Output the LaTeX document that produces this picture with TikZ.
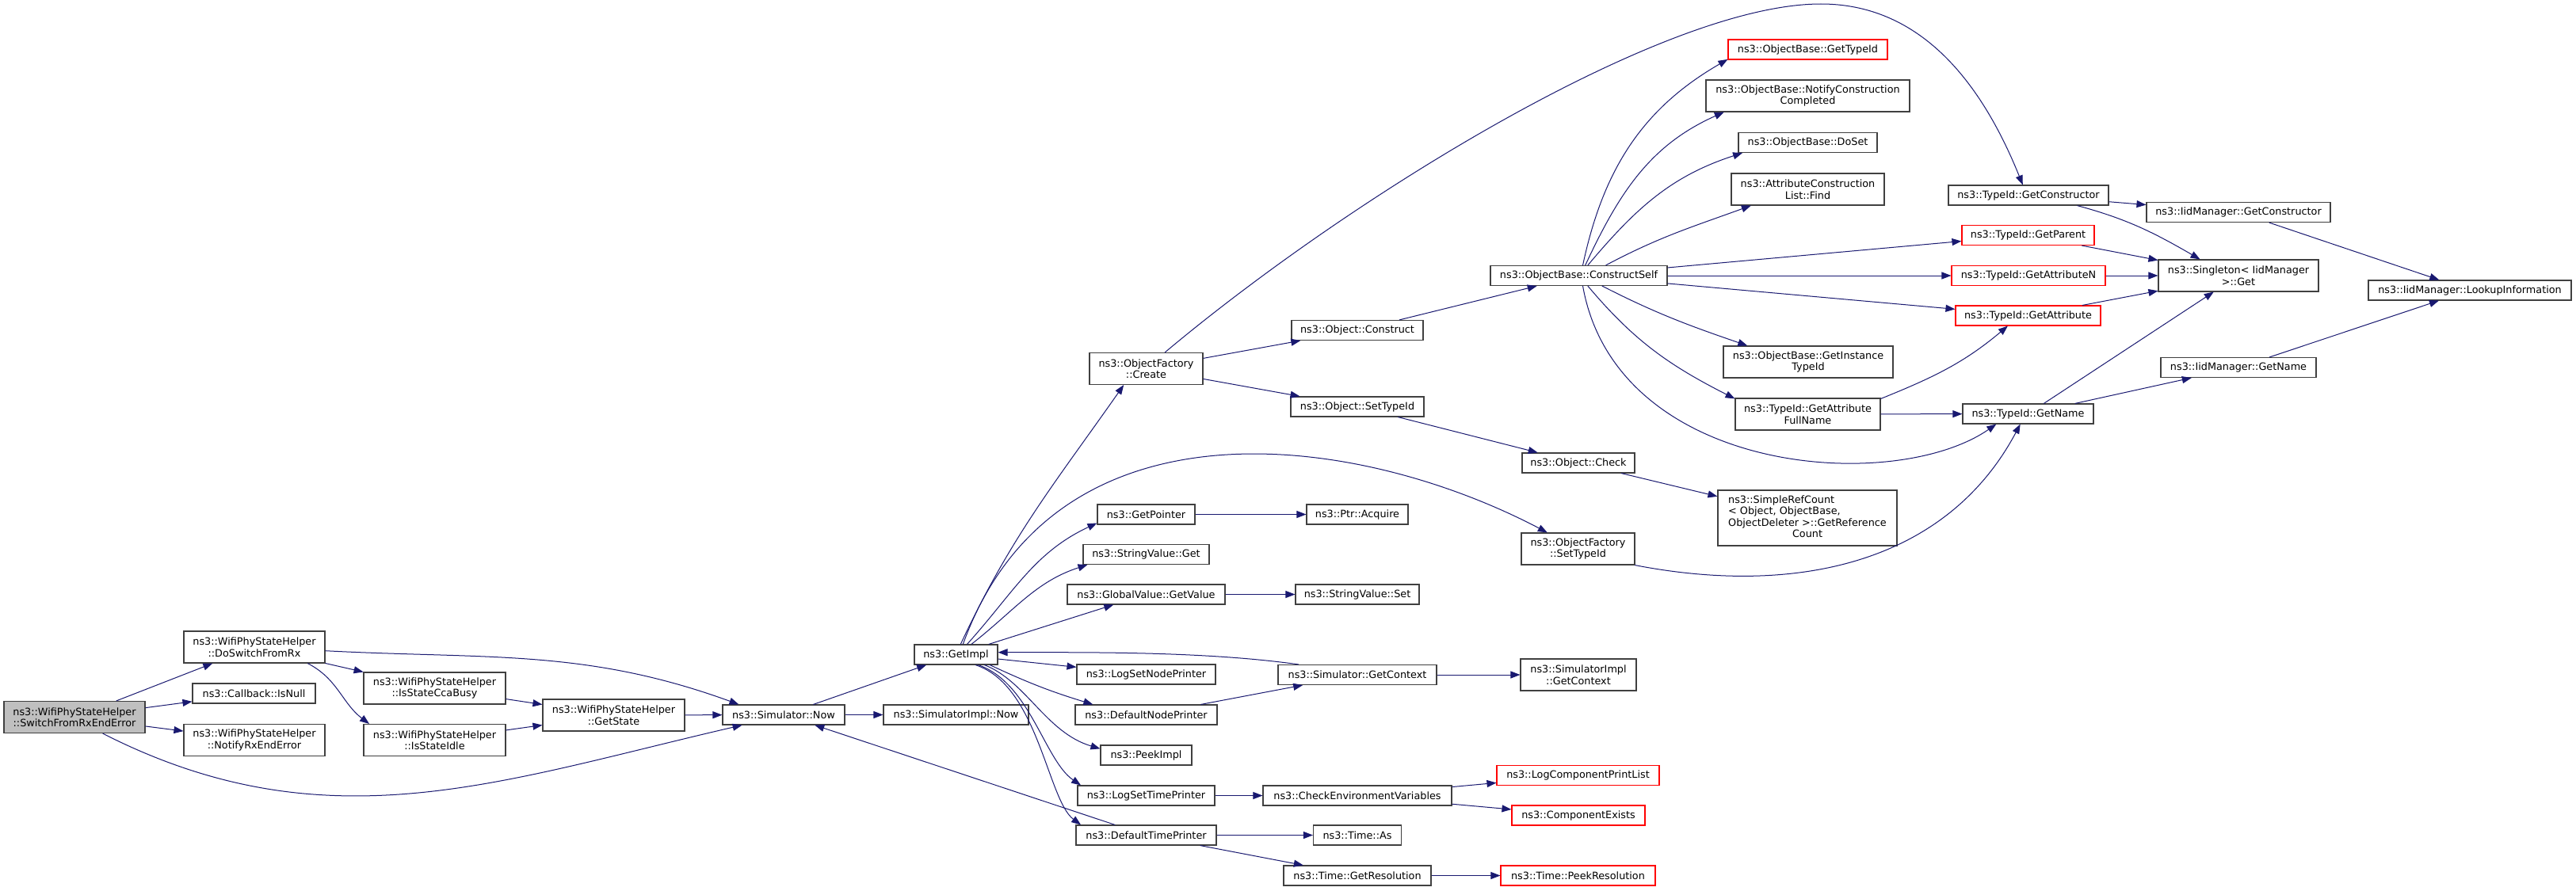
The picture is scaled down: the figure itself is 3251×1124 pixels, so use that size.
\documentclass[tikz,border=0pt]{standalone}
\usepackage{fontspec}
\usepackage{tikz}
\usetikzlibrary{arrows.meta}
\newfontfamily\dvsans{DejaVu Sans}
\definecolor{mnblue}{HTML}{191970}
\definecolor{boxgray}{HTML}{404040}
\tikzset{
  fn/.style={draw=boxgray, line width=1.1pt, fill=white, align=center,
    font=\dvsans\fontsize{12.8pt}{14.5pt}\selectfont, inner sep=2pt, minimum height=25pt},
  fn2/.style={fn, minimum height=40pt},
  fnred/.style={fn, draw=red},
  fnroot/.style={fn2, fill=black!25},
  call/.style={draw=mnblue, line width=1pt, -{Triangle[length=12pt,width=9pt]}},
}
\begin{document}
\begin{tikzpicture}[x=1pt,y=1pt]
\useasboundingbox (0,0) rectangle (3251,-1124);
% callers and the helper functions
\node[fnroot, minimum width=178pt] (sre) at (94,-905.5) {ns3::WifiPhyStateHelper\\::SwitchFromRxEndError};
\node[fn2, minimum width=178pt] (dsr) at (321,-817) {ns3::WifiPhyStateHelper\\::DoSwitchFromRx};
\node[fn, minimum width=155pt] (isnull) at (320.5,-875.5) {ns3::Callback::IsNull};
\node[fn2, minimum width=178pt] (notify) at (321,-934.5) {ns3::WifiPhyStateHelper\\::NotifyRxEndError};
\node[fn2, minimum width=179pt] (cca) at (548.5,-869) {ns3::WifiPhyStateHelper\\::IsStateCcaBusy};
\node[fn2, minimum width=179pt] (idle) at (548.5,-934.5) {ns3::WifiPhyStateHelper\\::IsStateIdle};
\node[fn2, minimum width=179pt] (getstate) at (774.5,-903) {ns3::WifiPhyStateHelper\\::GetState};
\node[fn, minimum width=154pt] (now) at (989,-902.5) {ns3::Simulator::Now};
\node[fn, minimum width=183pt] (implnow) at (1206.5,-902.5) {ns3::SimulatorImpl::Now};
\node[fn, minimum width=105pt] (getimpl) at (1206.5,-826.5) {ns3::GetImpl};
% column of GetImpl callees
\node[fn2, minimum width=143pt] (create) at (1446.5,-465.5) {ns3::ObjectFactory\\::Create};
\node[fn, minimum width=123pt] (getptr) at (1446.5,-649.5) {ns3::GetPointer};
\node[fn, minimum width=159pt] (svget) at (1446.5,-700) {ns3::StringValue::Get};
\node[fn, minimum width=199pt] (gvget) at (1446.5,-750.5) {ns3::GlobalValue::GetValue};
\node[fn, minimum width=175pt] (lsnp) at (1446.5,-851.5) {ns3::LogSetNodePrinter};
\node[fn, minimum width=179pt] (dnp) at (1446.5,-902.5) {ns3::DefaultNodePrinter};
\node[fn, minimum width=115pt] (peek) at (1446.5,-953.5) {ns3::PeekImpl};
\node[fn, minimum width=173pt] (lstp) at (1446.5,-1004.5) {ns3::LogSetTimePrinter};
\node[fn, minimum width=177pt] (dtp) at (1446.5,-1054.5) {ns3::DefaultTimePrinter};
\node[fn, minimum width=166pt] (construct) at (1713,-417) {ns3::Object::Construct};
\node[fn, minimum width=168pt] (settid) at (1713,-513.5) {ns3::Object::SetTypeId};
\node[fn, minimum width=128pt] (acquire) at (1713,-649.5) {ns3::Ptr::Acquire};
\node[fn, minimum width=156pt] (svset) at (1713,-750.5) {ns3::StringValue::Set};
\node[fn, minimum width=200pt] (getctx) at (1713,-852) {ns3::Simulator::GetContext};
\node[fn, minimum width=238pt] (cev) at (1713,-1004.5) {ns3::CheckEnvironmentVariables};
\node[fn, minimum width=111pt] (timeas) at (1713,-1054.5) {ns3::Time::As};
\node[fn, minimum width=186pt] (getres) at (1713,-1105.5) {ns3::Time::GetResolution};
\node[fn, minimum width=223pt] (cself) at (1992.5,-348) {ns3::ObjectBase::ConstructSelf};
\node[fn, minimum width=142pt] (check) at (1992,-584.5) {ns3::Object::Check};
\node[fn2, minimum width=143pt] (ofsettid) at (1991.5,-693) {ns3::ObjectFactory\\::SetTypeId};
\node[fn2, minimum width=146pt] (implctx) at (1992,-852) {ns3::SimulatorImpl\\::GetContext};
\node[fnred, minimum width=205pt] (lcpl) at (1991.5,-979) {ns3::LogComponentPrintList};
\node[fnred, minimum width=168pt] (cexists) at (1992,-1029.5) {ns3::ComponentExists};
\node[fnred, minimum width=195pt] (peekres) at (1991.5,-1105.5) {ns3::Time::PeekResolution};
% ObjectBase and TypeId side
\node[fnred, minimum width=201pt] (obgettid) at (2281.5,-62.5) {ns3::ObjectBase::GetTypeId};
\node[fn2, minimum width=257pt] (notifycc) at (2281.5,-121) {ns3::ObjectBase::NotifyConstruction\\Completed};
\node[fn, minimum width=175pt] (doset) at (2281.5,-180) {ns3::ObjectBase::DoSet};
\node[fn2, minimum width=193pt] (acfind) at (2281.5,-239) {ns3::AttributeConstruction\\List::Find};
\node[fn2, minimum width=214pt] (instid) at (2282,-457) {ns3::ObjectBase::GetInstance\\TypeId};
\node[fn2, minimum width=183pt] (attrfull) at (2281.5,-523) {ns3::TypeId::GetAttribute\\FullName};
\node[fn, minimum width=226pt, minimum height=70pt] (refcount) at (2281,-654)
  {\begin{tabular}{@{}l@{}}ns3::SimpleRefCount\\< Object, ObjectBase,\\ObjectDeleter >::GetReference\\\multicolumn{1}{@{}c@{}}{Count}\end{tabular}};
\node[fn, minimum width=202pt] (tgetctor) at (2560,-246.5) {ns3::TypeId::GetConstructor};
\node[fnred, minimum width=167pt] (tparent) at (2559.5,-297) {ns3::TypeId::GetParent};
\node[fnred, minimum width=194pt] (tattrn) at (2560,-348) {ns3::TypeId::GetAttributeN};
\node[fnred, minimum width=183pt] (tattr) at (2559.5,-398.5) {ns3::TypeId::GetAttribute};
\node[fn, minimum width=165pt] (tname) at (2559.5,-522.5) {ns3::TypeId::GetName};
\node[fn, minimum width=232pt] (iget) at (2825,-268) {ns3::IidManager::GetConstructor};
\node[fn2, minimum width=202pt] (singleton) at (2825,-348) {ns3::Singleton< IidManager\\>::Get};
\node[fn, minimum width=196pt] (igetname) at (2825,-464) {ns3::IidManager::GetName};
\node[fn, minimum width=256pt] (lookup) at (3117,-366.5) {ns3::IidManager::LookupInformation};
\coordinate (crtop) at (2298,-5);
% calls
\draw[call] (sre) -- (dsr);
\draw[call] (sre) -- (isnull);
\draw[call] (sre) -- (notify);
\draw[call] (sre.-30) to[out=-27,in=-167] (now.-166);
\draw[call] (dsr.-3) to[out=-3,in=160] (now.167);
\draw[call] (dsr) -- (cca);
\draw[call] (dsr.-17) to[out=-27,in=143] (idle.166);
\draw[call] (cca) -- (getstate);
\draw[call] (idle) -- (getstate);
\draw[call] (getstate) -- (now);
\draw[call] (now) -- (implnow);
\draw[call] (now) -- (getimpl);
\draw[call] (dtp) -- (now);
\draw[call] (getimpl.66) to[out=65,in=-125] (create.-144);
\draw[call] (getimpl.56) .. controls (1330,-495) and (1710,-545) .. (ofsettid.152);
\draw[call] (getimpl.43) to[out=48,in=-155] (getptr.-170);
\draw[call] (getimpl.34) to[out=38,in=-162] (svget.-170);
\draw[call] (getimpl) -- (gvget);
\draw[call] (getimpl) -- (lsnp);
\draw[call] (getimpl.-17) to[out=-25,in=163] (dnp.169);
\draw[call] (getimpl.-20) .. controls (1295,-860) and (1320,-925) .. (peek.172);
\draw[call] (getimpl.-25) .. controls (1300,-862) and (1318,-960) .. (lstp.171);
\draw[call] (getimpl.-28) .. controls (1310,-865) and (1322,-1010) .. (dtp.171);
\draw[call] (getctx.170) to[out=172,in=0,looseness=0.8] (getimpl.3);
\draw[call] (dnp) -- (getctx);
\draw[call] (getctx) -- (implctx);
\draw[call] (getptr) -- (acquire);
\draw[call] (gvget) -- (svset);
\draw[call] (lstp) -- (cev);
\draw[call] (cev) -- (lcpl);
\draw[call] (cev) -- (cexists);
\draw[call] (dtp) -- (timeas);
\draw[call] (dtp) -- (getres);
\draw[call] (getres) -- (peekres);
\draw[call] (create) -- (construct);
\draw[call] (create) -- (settid);
\draw[call] (create.41) .. controls (1700,-252) and (2098,-5) .. (crtop)
  .. controls (2418,-5) and (2497,-95) .. (tgetctor.119);
\draw[call] (construct) -- (cself);
\draw[call] (settid) -- (check);
\draw[call] (check) -- (refcount);
\draw[call] (ofsettid.-16) to[out=-11,in=-118] (tname.-127);
\draw[call] (cself.69) to[out=78,in=-150] (obgettid.-173);
\draw[call] (cself.58) to[out=65,in=-156] (notifycc.-169);
\draw[call] (cself.49) to[out=50,in=-162] (doset.-171);
\draw[call] (cself.21) to[out=28,in=-160] (acfind.-164);
\draw[call] (cself) -- (tparent);
\draw[call] (cself) -- (tattrn);
\draw[call] (cself) -- (tattr);
\draw[call] (cself.-24) to[out=-27,in=161] (instid.165);
\draw[call] (cself.-49) to[out=-50,in=153] (attrfull.168);
\draw[call] (cself.-69) .. controls (2040,-600) and (2390,-625) .. (tname.-162);
\draw[call] (attrfull.12) to[out=22,in=-140] (tattr.-153);
\draw[call] (attrfull) -- (tname);
\draw[call] (tgetctor) -- (iget);
\draw[call] (tgetctor.-12) to[out=-15,in=150] (singleton.157);
\draw[call] (tparent) -- (singleton);
\draw[call] (tattrn) -- (singleton);
\draw[call] (tattr) -- (singleton);
\draw[call] (tname) -- (singleton);
\draw[call] (tname) -- (igetname);
\draw[call] (iget) -- (lookup);
\draw[call] (igetname) -- (lookup);
\end{tikzpicture}
\end{document}
